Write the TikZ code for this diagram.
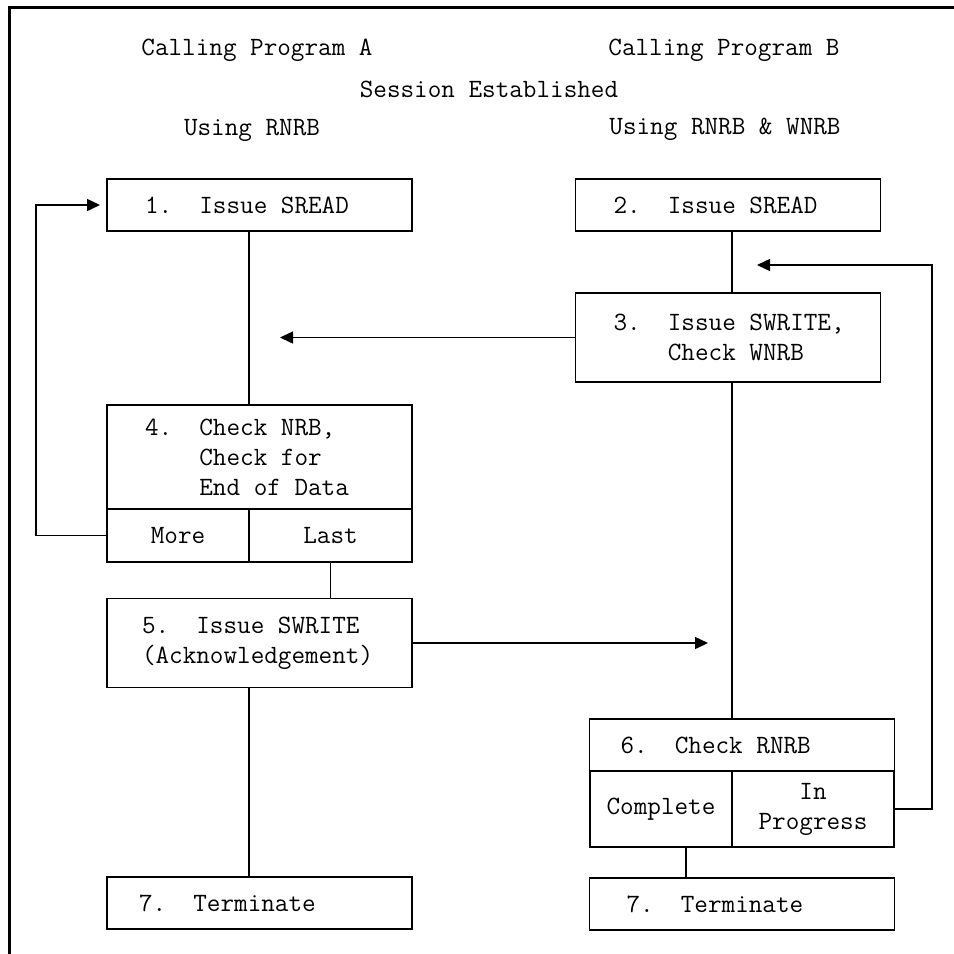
\documentclass[tikz,border=0pt]{standalone}
\usepackage{fontspec}
\usetikzlibrary{arrows.meta}

\begin{document}
\begin{tikzpicture}
    [
        x = 0.5pt,
        y = -0.5pt,
        line width = 0.75pt,
        every node/.style={
            font = \ttfamily\fontsize{13.2pt}{15pt}\selectfont\frenchspacing,
            inner sep = 0pt,
            outer sep = 0pt
        },
        stepbox/.style={
            draw,
            rectangle,
            minimum width = 152.5pt,
            minimum height = 26pt
        },
        cell/.style={
            draw,
            rectangle,
            align = center,
            minimum height = 26.5pt
        },
        steptext/.style={anchor = west, align = left},
        flow/.style={-{Triangle[length = 6.5pt, width = 6pt]}},
    ]

    \useasboundingbox (0,0) rectangle (954,954);
    \draw [line width = 1.5pt] (9.5,954) -- (9.5,7.5) -- (954,7.5);

    % headings
    \node (progA) at (257,50) {Calling Program A};
    \node (progB) at (724,50) {Calling Program B};
    \node (session) at (489,89) {Session Established};
    \node (usingA) at (252,130) {Using RNRB};
    \node (usingB) at (725,129) {Using RNRB \& WNRB};

    % program A
    \node [stepbox] (readA) at (259.5,205) {};
    \node [stepbox, minimum height = 52pt] (checkA) at (259.5,457) {};
    \node [cell, minimum width = 71pt] (more) at (178,535.5) {More};
    \node [cell, minimum width = 81.5pt] (last) at (330.5,535.5) {Last};
    \node [stepbox, minimum height = 44.5pt] (ackA) at (259.5,643) {};
    \node [stepbox] (endA) at (259.5,903) {};

    \node [steptext] (readA text) at ([xshift = 19pt]readA.west) {1.\ \ Issue SREAD};
    \node [steptext] (checkA text) at ([xshift = 19pt]checkA.west)
        {4.\ \ Check NRB,\\\phantom{4.\ \ }Check for\\\phantom{4.\ \ }End of Data};
    \node [steptext] (ackA text) at ([xshift = 17.5pt]ackA.west)
        {5.\ \ Issue SWRITE\\(Acknowledgement)};
    \node [steptext] (endA text) at ([xshift = 16pt]endA.west) {7.\ \ Terminate};

    % program B
    \node [stepbox] (readB) at (728,205) {};
    \node [stepbox, minimum height = 44.5pt] (writeB) at (728,337.5) {};
    \node [stepbox] (checkB) at (742,745) {};
    \node [cell, minimum width = 71pt, minimum height = 38pt] (complete) at (661,809) {Complete};
    \node [cell, minimum width = 81pt, minimum height = 38pt] (progress) at (813,809) {In\\Progress};
    \node [stepbox] (endB) at (742,904) {};

    \node [steptext] (readB text) at ([xshift = 19pt]readB.west) {2.\ \ Issue SREAD};
    \node [steptext] (writeB text) at ([xshift = 19pt]writeB.west)
        {3.\ \ Issue SWRITE,\\\phantom{3.\ \ }Check WNRB};
    \node [steptext] (checkB text) at ([xshift = 15.5pt]checkB.west) {6.\ \ Check RNRB};
    \node [steptext] (endB text) at ([xshift = 18.5pt]endB.west) {7.\ \ Terminate};

    % connectors
    \coordinate (loopA) at (36,205);
    \coordinate (toA) at (280,337.5);
    \coordinate (toB) at (708,643);
    \coordinate (loopB) at (932,265);
    \coordinate (backB) at (757,265);

    \draw (readA.south -| more.east) -- (checkA.north -| more.east);
    \draw (last.south) -- (last.south |- ackA.north);
    \draw (ackA.south -| more.east) -- (endA.north -| more.east);
    \draw [flow, shorten >= 3.5pt] (more.west) -| (loopA) -- (readA.west);

    \draw (readB.south -| complete.east) -- (writeB.north -| complete.east);
    \draw [flow] (writeB.west) -- (toA);
    \draw [flow] (ackA.east) -- (toB);
    \draw (writeB.south -| complete.east) -- (checkB.north -| complete.east);
    \draw [flow] (progress.east) -| (loopB) -- (backB);
    \draw ([xshift = 12.5pt]complete.south) -- ([xshift = 12.5pt]complete.south |- endB.north);
\end{tikzpicture}
\end{document}
